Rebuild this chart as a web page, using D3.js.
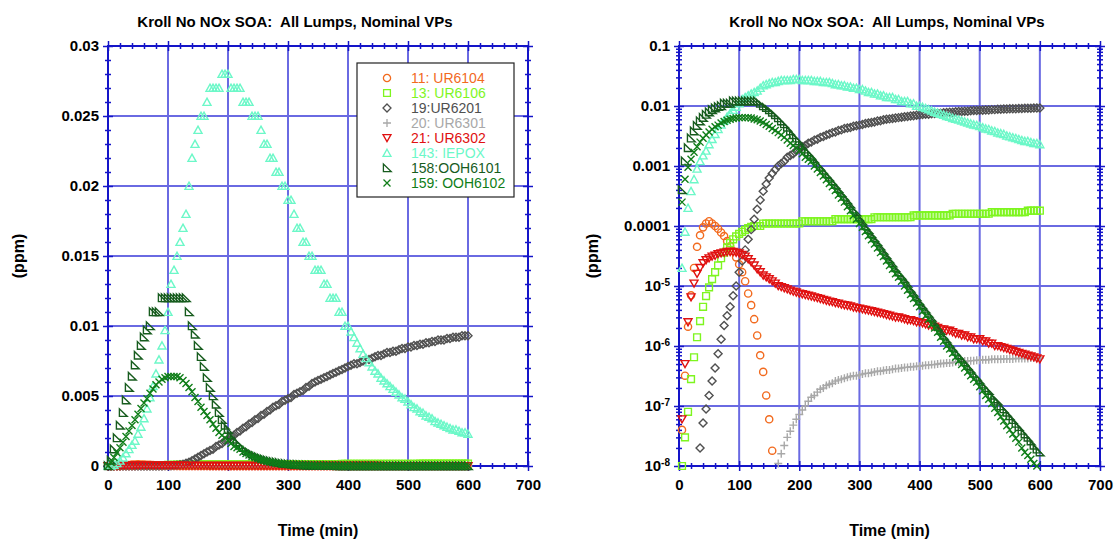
<!DOCTYPE html>
<html>
<head>
<meta charset="utf-8">
<script src="https://cdn.jsdelivr.net/npm/d3@7"></script>
<style>
body { margin:0; background:#fff; }
svg text { font-family: Arial, "Liberation Sans", sans-serif; }
</style>
</head>
<body>
<svg id="chart" width="1114" height="540"></svg>
<script>
// model output every 5 min, 0..600
var time = d3.range(0, 605, 5);

var ur6104 = [0,4.0e-8,3.2e-7,2.1e-6,7.0e-6,2.0e-5,4.5e-5,7.0e-5,9.5e-5,1.1e-4,
  1.2e-4,1.1e-4,1.0e-4,9.0e-5,7.8e-5,6.8e-5,5.6e-5,4.6e-5,3.8e-5,3.0e-5,
  2.3e-5,1.7e-5,1.2e-5,7.5e-6,4.8e-6,2.8e-6,1.5e-6,7.0e-7,3.7e-7,1.5e-7,
  6.0e-8,1.8e-8,5.0e-9,
  0,0,0,0,0,0,0,0,0,0, 0,0,0,0,0,0,0,0,0,0, 0,0,0,0,0,0,0,0,0,0,
  0,0,0,0,0,0,0,0,0,0, 0,0,0,0,0,0,0,0,0,0, 0,0,0,0,0,0,0,0,0,0,
  0,0,0,0,0,0,0,0,0,0, 0,0,0,0,0,0,0,0,0,0, 0,0,0,0,0,0,0,0];

var ur6106 = [0,1.0e-8,3.0e-8,8.0e-8,2.8e-7,6.5e-7,1.4e-6,2.6e-6,4.5e-6,6.8e-6,
  9.5e-6,1.3e-5,1.7e-5,2.2e-5,2.9e-5,3.6e-5,4.4e-5,5.2e-5,6.0e-5,6.7e-5,
  7.4e-5,8.0e-5,8.6e-5,9.2e-5,9.7e-5,
  1.0e-4,1.0e-4,1.0e-4,
  1.1e-4,1.1e-4,1.1e-4,1.1e-4,1.1e-4,1.1e-4,1.1e-4,1.1e-4,1.1e-4,1.1e-4,1.1e-4,1.1e-4,1.1e-4,
  1.2e-4,1.2e-4,1.2e-4,1.2e-4,1.2e-4,1.2e-4,1.2e-4,1.2e-4,1.2e-4,1.2e-4,1.2e-4,
  1.3e-4,1.3e-4,1.3e-4,1.3e-4,1.3e-4,1.3e-4,1.3e-4,1.3e-4,1.3e-4,1.3e-4,1.3e-4,1.3e-4,1.3e-4,
  1.4e-4,1.4e-4,1.4e-4,1.4e-4,1.4e-4,1.4e-4,1.4e-4,1.4e-4,1.4e-4,1.4e-4,1.4e-4,1.4e-4,1.4e-4,
  1.5e-4,1.5e-4,1.5e-4,1.5e-4,1.5e-4,1.5e-4,1.5e-4,1.5e-4,1.5e-4,1.5e-4,1.5e-4,1.5e-4,1.5e-4,
  1.6e-4,1.6e-4,1.6e-4,1.6e-4,1.6e-4,1.6e-4,1.6e-4,1.6e-4,1.6e-4,1.6e-4,1.6e-4,1.6e-4,1.6e-4,
  1.7e-4,1.7e-4,1.7e-4,1.7e-4,1.7e-4,1.7e-4,1.7e-4,1.7e-4,1.7e-4,1.7e-4,1.7e-4,1.7e-4,
  1.8e-4,1.8e-4,1.8e-4,1.8e-4,1.8e-4];

var ur6201 = [0,0,0,0,0,0,0,
  2.0e-8,5.2e-8,8.9e-8,1.5e-7,2.6e-7,4.3e-7,7.4e-7,1.3e-6,2.2e-6,3.2e-6,
  4.5e-6,6.9e-6,1.0e-5,1.7e-5,2.6e-5,4.0e-5,6.0e-5,8.7e-5,1.3e-4,1.9e-4,
  2.7e-4,3.8e-4,5.0e-4,6.3e-4,
  7.5e-4,8.7e-4,1.0e-3,1.1e-3,1.2e-3,1.4e-3,1.5e-3,1.6e-3,1.8e-3,1.9e-3,
  2.1e-3,2.2e-3,2.4e-3,2.5e-3,2.7e-3,2.8e-3,3.0e-3,3.1e-3,3.3e-3,3.4e-3,
  3.6e-3,3.7e-3,3.9e-3,4.0e-3,4.2e-3,4.3e-3,4.4e-3,4.6e-3,4.7e-3,4.8e-3,
  4.9e-3,5.1e-3,5.2e-3,5.3e-3,
  5.4e-3,5.6e-3,5.7e-3,5.9e-3,6.0e-3,6.1e-3,6.2e-3,6.3e-3,6.4e-3,6.5e-3,
  6.6e-3,6.7e-3,6.8e-3,6.9e-3,7.0e-3,7.1e-3,
  7.2e-3,7.3e-3,7.3e-3,7.4e-3,7.5e-3,7.6e-3,7.6e-3,7.7e-3,7.8e-3,7.9e-3,
  7.9e-3,8.0e-3,8.1e-3,8.1e-3,8.2e-3,8.2e-3,8.3e-3,8.4e-3,8.4e-3,8.5e-3,
  8.5e-3,8.6e-3,8.6e-3,8.7e-3,8.7e-3,8.8e-3,8.8e-3,8.9e-3,8.9e-3,9.0e-3,
  9.0e-3,9.0e-3,9.1e-3,9.1e-3,9.2e-3,9.2e-3,9.2e-3,9.3e-3,9.3e-3,9.3e-3];

var ur6301 = [0,0,0,0,0,0,0,0,0,0, 0,0,0,0,0,0,0,0,0,0, 0,0,0,0,0,0,0,0,0,0, 0,0,0,
  1.1e-8,1.6e-8,2.2e-8,3.0e-8,3.8e-8,4.8e-8,6.0e-8,7.2e-8,8.6e-8,1.0e-7,
  1.2e-7,1.4e-7,1.5e-7,1.7e-7,1.9e-7,2.0e-7,2.2e-7,2.3e-7,2.4e-7,2.6e-7,
  2.7e-7,2.8e-7,2.9e-7,3.0e-7,3.1e-7,3.2e-7,3.2e-7,3.3e-7,
  3.4e-7,3.5e-7,3.5e-7,3.6e-7,3.7e-7,3.8e-7,3.8e-7,3.9e-7,4.0e-7,4.0e-7,
  4.1e-7,4.2e-7,4.2e-7,4.3e-7,4.4e-7,4.4e-7,4.5e-7,4.5e-7,4.6e-7,4.6e-7,
  4.7e-7,4.8e-7,4.8e-7,4.9e-7,4.9e-7,5.0e-7,5.1e-7,5.1e-7,5.2e-7,5.2e-7,
  5.3e-7,5.4e-7,5.4e-7,5.5e-7,5.6e-7,5.6e-7,5.7e-7,5.7e-7,5.8e-7,5.8e-7,
  5.9e-7,5.9e-7,5.9e-7,6.0e-7,6.0e-7,6.0e-7,6.0e-7,6.1e-7,6.1e-7,6.1e-7,
  6.1e-7,6.2e-7,6.2e-7,6.2e-7,6.2e-7,6.2e-7,6.3e-7,6.3e-7,6.3e-7,6.3e-7];

var ur6302 = [0,6.0e-8,5.0e-7,2.5e-6,6.5e-6,1.1e-5,1.6e-5,2.0e-5,2.4e-5,2.7e-5,
  2.9e-5,3.1e-5,3.2e-5,3.4e-5,3.5e-5,3.6e-5,3.7e-5,3.7e-5,3.7e-5,3.6e-5,
  3.5e-5,3.3e-5,3.1e-5,2.8e-5,2.5e-5,2.2e-5,1.9e-5,1.7e-5,1.5e-5,1.4e-5,
  1.3e-5,1.2e-5,1.1e-5,1.0e-5,9.6e-6,9.2e-6,8.8e-6,8.4e-6,8.1e-6,7.8e-6,
  7.5e-6,
  7.3e-6,7.1e-6,6.9e-6,6.7e-6,6.5e-6,6.3e-6,6.1e-6,5.9e-6,5.7e-6,5.5e-6,
  5.4e-6,5.2e-6,5.1e-6,4.9e-6,4.8e-6,4.7e-6,4.6e-6,4.4e-6,4.3e-6,4.2e-6,
  4.1e-6,4.0e-6,3.9e-6,3.8e-6,3.7e-6,3.6e-6,3.5e-6,3.4e-6,3.3e-6,3.2e-6,
  3.1e-6,3.0e-6,3.0e-6,2.9e-6,2.8e-6,2.7e-6,2.7e-6,2.6e-6,2.5e-6,2.5e-6,
  2.4e-6,2.3e-6,2.2e-6,2.2e-6,2.1e-6,2.0e-6,1.9e-6,1.9e-6,1.8e-6,1.8e-6,
  1.7e-6,1.6e-6,1.6e-6,1.5e-6,1.5e-6,1.4e-6,1.4e-6,1.3e-6,1.3e-6,1.3e-6,
  1.2e-6,1.2e-6,1.1e-6,1.1e-6,1.0e-6,1.0e-6,9.6e-7,9.3e-7,9.0e-7,8.6e-7,
  8.3e-7,8.0e-7,7.7e-7,7.4e-7,7.2e-7,6.9e-7,6.7e-7,6.5e-7,6.2e-7,6.0e-7];

var iepox = [0,2.0e-5,8.0e-5,2.0e-4,3.8e-4,6.0e-4,9.0e-4,1.2e-3,1.5e-3,1.8e-3,
  2.3e-3,2.8e-3,3.4e-3,4.1e-3,4.9e-3,5.7e-3,6.6e-3,7.6e-3,8.6e-3,9.7e-3,
  0.011,0.013,0.014,0.015,0.016,0.017,0.018,0.020,0.022,0.023,
  0.024,0.025,0.025,0.026,0.027,0.027,0.027,0.027,0.028,0.028,
  0.028,0.027,0.027,0.027,0.027,0.026,0.026,0.026,0.025,0.025,
  0.025,0.024,0.023,0.023,0.022,0.022,0.021,0.021,0.020,0.020,
  0.019,0.019,0.018,0.017,0.017,0.016,0.016,0.015,0.015,0.014,
  0.014,0.014,0.013,0.013,0.012,0.012,0.012,0.011,0.011,0.010,
  0.010,0.0096,0.0092,0.0088,0.0084,0.0080,0.0077,0.0074,0.0071,0.0068,
  0.0066,0.0063,0.0061,0.0059,0.0057,0.0055,0.0053,0.0051,0.0049,0.0048,
  0.0046,0.0044,0.0042,0.0041,0.0039,0.0038,0.0036,0.0035,0.0034,0.0032,
  0.0031,0.0030,0.0029,0.0028,0.0027,0.0026,0.0026,0.0025,0.0024,0.0024,
  0.0023];

var ooh6101 = [0,4.0e-4,1.2e-3,2.0e-3,2.9e-3,3.8e-3,4.7e-3,5.6e-3,6.4e-3,7.2e-3,
  7.9e-3,8.6e-3,9.2e-3,9.7e-3,0.010,0.011,0.011,0.011,0.012,0.012,
  0.012,0.012,0.012,0.012,0.012,0.012,0.012,0.011,0.010,9.4e-3,
  8.6e-3,7.8e-3,7.1e-3,6.3e-3,5.6e-3,5.0e-3,4.4e-3,3.8e-3,3.3e-3,2.9e-3,
  2.6e-3,2.2e-3,1.9e-3,1.7e-3,1.5e-3,1.3e-3,1.1e-3,9.8e-4,8.5e-4,7.4e-4,
  6.5e-4,5.6e-4,4.9e-4,4.2e-4,3.6e-4,3.1e-4,2.7e-4,2.3e-4,1.9e-4,1.7e-4,
  1.4e-4,1.2e-4,1.0e-4,8.7e-5,7.4e-5,6.3e-5,5.4e-5,4.6e-5,3.9e-5,3.3e-5,
  2.8e-5,2.4e-5,2.0e-5,1.7e-5,1.5e-5,1.3e-5,1.1e-5,9.1e-6,7.8e-6,6.6e-6,
  5.6e-6,4.8e-6,4.1e-6,3.5e-6,3.0e-6,2.5e-6,2.1e-6,1.8e-6,1.5e-6,1.3e-6,
  1.1e-6,9.5e-7,8.1e-7,7.1e-7,6.2e-7,5.4e-7,4.7e-7,4.1e-7,3.5e-7,3.1e-7,
  2.7e-7,2.3e-7,2.0e-7,1.8e-7,1.5e-7,1.3e-7,1.2e-7,1.0e-7,8.9e-8,7.8e-8,
  6.8e-8,5.9e-8,5.1e-8,4.5e-8,3.9e-8,3.4e-8,3.0e-8,2.6e-8,2.2e-8,1.9e-8,
  1.7e-8];

var ooh6102 = [0,2.5e-4,6.0e-4,9.5e-4,1.3e-3,1.7e-3,2.1e-3,2.5e-3,2.9e-3,3.3e-3,
  3.7e-3,4.1e-3,4.5e-3,4.8e-3,5.2e-3,5.5e-3,5.8e-3,6.0e-3,6.2e-3,6.3e-3,
  6.4e-3,6.4e-3,6.4e-3,6.4e-3,6.3e-3,6.1e-3,5.9e-3,5.6e-3,5.3e-3,4.9e-3,
  4.6e-3,4.2e-3,3.9e-3,3.6e-3,3.3e-3,3.0e-3,2.7e-3,2.4e-3,2.2e-3,2.0e-3,
  1.8e-3,1.6e-3,1.4e-3,1.3e-3,1.2e-3,1.0e-3,8.9e-4,7.8e-4,6.8e-4,5.9e-4,
  5.1e-4,4.5e-4,3.9e-4,3.3e-4,2.9e-4,2.5e-4,2.1e-4,1.8e-4,1.5e-4,1.3e-4,
  1.1e-4,9.5e-5,8.1e-5,6.9e-5,5.9e-5,5.0e-5,4.3e-5,3.6e-5,3.1e-5,2.6e-5,
  2.2e-5,1.9e-5,1.6e-5,1.4e-5,1.2e-5,1.0e-5,8.5e-6,7.2e-6,6.2e-6,5.2e-6,
  4.5e-6,3.8e-6,3.2e-6,2.8e-6,2.3e-6,2.0e-6,1.7e-6,1.4e-6,1.2e-6,1.0e-6,
  8.9e-7,7.6e-7,6.5e-7,5.6e-7,4.9e-7,4.3e-7,3.7e-7,3.2e-7,2.8e-7,2.5e-7,
  2.1e-7,1.8e-7,1.5e-7,1.3e-7,1.1e-7,9.2e-8,7.8e-8,6.6e-8,5.6e-8,4.7e-8,
  4.0e-8,3.4e-8,2.9e-8,2.5e-8,2.0e-8,1.7e-8,1.5e-8,1.3e-8,1.1e-8,1.0e-8,
  9.3e-9];

var seriesNames = ["11: UR6104","13: UR6106","19:UR6201","20: UR6301","21: UR6302","143: IEPOX","158:OOH6101","159: OOH6102"];
var seriesColors = ["#f26a1e","#7ef51f","#505050","#a8a8a8","#e01010","#6cf8c8","#175c1e","#0f7e18"];
var seriesShapes = ["circle","square","diamond","plus","tridown","triup","rtri","cross"];
var seriesValues = [ur6104, ur6106, ur6201, ur6301, ur6302, iepox, ooh6101, ooh6102];

var xTicks = [0,100,200,300,400,500,600,700];
var linTicks = [0,0.005,0.01,0.015,0.02,0.025,0.03];
var logTicks = [1e-8,1e-7,1e-6,1e-5,1e-4,1e-3,1e-2,1e-1];

var titleText = "Kroll No NOx SOA:  All Lumps, Nominal VPs";
var axisColor = "#1414c8", gridColor = "#6a6ae2";
var plotTop = 46, plotBottom = 466;

var svg = d3.select("#chart");

function markerPath(shape){
  switch(shape){
    case "circle": return "M3.6,0A3.6,3.6 0 1,1 -3.6,0A3.6,3.6 0 1,1 3.6,0Z";
    case "square": return "M-3.4,-3.4H3.4V3.4H-3.4Z";
    case "diamond": return "M0,-4L4,0L0,4L-4,0Z";
    case "plus": return "M-4,0H4M0,-4V4";
    case "tridown": return "M-4,-3.4L4,-3.4L0,3.6Z";
    case "triup": return "M0,-3.8L4,3.4L-4,3.4Z";
    case "rtri": return "M-3.6,-4L-3.6,3.6L4.2,3.6Z";
    case "cross": return "M-3.5,-3.5L3.5,3.5M-3.5,3.5L3.5,-3.5";
  }
}

var panels = [
  {x0:108, x1:528, log:false, titleX:295, ylabX:18},
  {x0:679, x1:1100, log:true, titleX:887, ylabX:592}
];

panels.forEach(function(p){
  var g = svg.append("g");
  var x = d3.scaleLinear().domain([0,700]).range([p.x0, p.x1]);
  var y = p.log ? d3.scaleLog().domain([1e-8,0.1]).range([plotBottom, plotTop])
                : d3.scaleLinear().domain([0,0.03]).range([plotBottom, plotTop]);
  var yMajor = p.log ? logTicks : linTicks;
  var yMinor = [];
  if (p.log) {
    logTicks.slice(0,-1).forEach(function(d){ for (var k=2;k<10;k++) yMinor.push(d*k); });
  } else {
    for (var i=1;i<30;i++) if (i%5) yMinor.push(i/1000);
  }
  var xMinor = [];
  for (var j=20;j<700;j+=20) if (j%100) xMinor.push(j);

  // grid
  g.append("g").selectAll("line").data(xTicks.slice(1,-1)).join("line")
    .attr("x1", d => x(d)).attr("x2", d => x(d))
    .attr("y1", plotTop).attr("y2", plotBottom)
    .attr("stroke", gridColor).attr("stroke-width", 2);
  g.append("g").selectAll("line").data(yMajor.slice(1,-1)).join("line")
    .attr("x1", p.x0).attr("x2", p.x1)
    .attr("y1", d => y(d)).attr("y2", d => y(d))
    .attr("stroke", gridColor).attr("stroke-width", 2);

  // frame
  g.append("rect").attr("x", p.x0).attr("y", plotTop)
    .attr("width", p.x1-p.x0).attr("height", plotBottom-plotTop)
    .attr("fill","none").attr("stroke", axisColor).attr("stroke-width", 2);

  // crossing ticks on all four sides
  function ticks(axisFn, scale, vals, size, tx, ty){
    var a = g.append("g").attr("transform","translate("+tx+","+ty+")")
      .call(axisFn(scale).tickValues(vals).tickSize(size).tickFormat(""));
    a.select(".domain").remove();
    a.selectAll("line").attr("stroke", axisColor).attr("stroke-width", 1.5);
  }
  ticks(d3.axisBottom, x, xTicks, 10, 0, plotBottom-5);
  ticks(d3.axisBottom, x, xMinor, 6, 0, plotBottom-3);
  ticks(d3.axisTop, x, xTicks, 10, 0, plotTop+5);
  ticks(d3.axisTop, x, xMinor, 6, 0, plotTop+3);
  ticks(d3.axisLeft, y, yMajor, 10, p.x0+5, 0);
  ticks(d3.axisLeft, y, yMinor, 6, p.x0+3, 0);
  ticks(d3.axisRight, y, yMajor, 10, p.x1-5, 0);
  ticks(d3.axisRight, y, yMinor, 6, p.x1-3, 0);

  // tick labels
  var xl = g.append("g").attr("transform","translate(0,"+plotBottom+")")
    .call(d3.axisBottom(x).tickValues(xTicks).tickSize(0).tickPadding(13));
  xl.select(".domain").remove();
  xl.selectAll("text").attr("font-size", 15).attr("font-weight","bold")
    .attr("font-family","Arial, 'Liberation Sans', sans-serif").attr("fill","#000");

  var yl = g.append("g").attr("transform","translate("+p.x0+",0)")
    .call(d3.axisLeft(y).tickValues(yMajor).tickSize(0).tickPadding(9)
      .tickFormat(function(d){
        if (!p.log) return d === 0 ? "0" : String(+d.toFixed(3));
        var e = Math.round(Math.log10(d));
        return e >= -4 ? d.toFixed(-e) : "10";
      }));
  yl.select(".domain").remove();
  yl.selectAll("text").attr("font-size", 15).attr("font-weight","bold")
    .attr("font-family","Arial, 'Liberation Sans', sans-serif").attr("fill","#000")
    .each(function(d){
      if (!p.log) return;
      var e = Math.round(Math.log10(d));
      if (e < -4) {
        var t = d3.select(this).text("10");
        t.append("tspan").attr("dy","-0.55em").attr("font-size", 10).text(e);
      }
    });

  // markers, legend order so later series sit on top
  seriesValues.forEach(function(vals, si){
    var pts = time.map(function(t,k){ return {t:t, v:vals[k]}; })
      .filter(function(d){ return p.log ? (d.v >= 0.97e-8 && d.v <= 0.1) : d.v >= 0; });
    g.append("g").selectAll("path").data(pts).join("path")
      .attr("d", markerPath(seriesShapes[si]))
      .attr("transform", d => "translate("+x(d.t)+","+y(d.v)+")")
      .attr("fill","none").attr("stroke", seriesColors[si]).attr("stroke-width", 1.4);
  });

  // titles
  g.append("text").attr("x", p.titleX).attr("y", 27).attr("text-anchor","middle")
    .style("white-space","pre")
    .attr("font-size", 15).attr("font-weight","bold").text(titleText);
  g.append("text").attr("x", (p.x0+p.x1)/2).attr("y", 536).attr("text-anchor","middle")
    .attr("font-size", 16).attr("font-weight","bold").text("Time (min)");
  g.append("text").attr("transform","translate("+(p.ylabX+6)+",256) rotate(-90)")
    .attr("text-anchor","middle").attr("font-size", 16).attr("font-weight","bold").text("(ppm)");
});

// legend on the linear panel
var leg = svg.append("g");
leg.append("rect").attr("x", 357).attr("y", 63).attr("width", 157).attr("height", 134)
  .attr("fill","#fff").attr("stroke","#222").attr("stroke-width", 1.2);
seriesNames.forEach(function(name, i){
  var yy = 83 + i*15;
  leg.append("path").attr("d", markerPath(seriesShapes[i]))
    .attr("transform","translate(387,"+(yy-5)+")")
    .attr("fill","none").attr("stroke", seriesColors[i]).attr("stroke-width", 1.3);
  leg.append("text").attr("x", 411).attr("y", yy).attr("font-size", 14)
    .attr("fill", seriesColors[i]).text(name);
});
</script>
</body>
</html>
